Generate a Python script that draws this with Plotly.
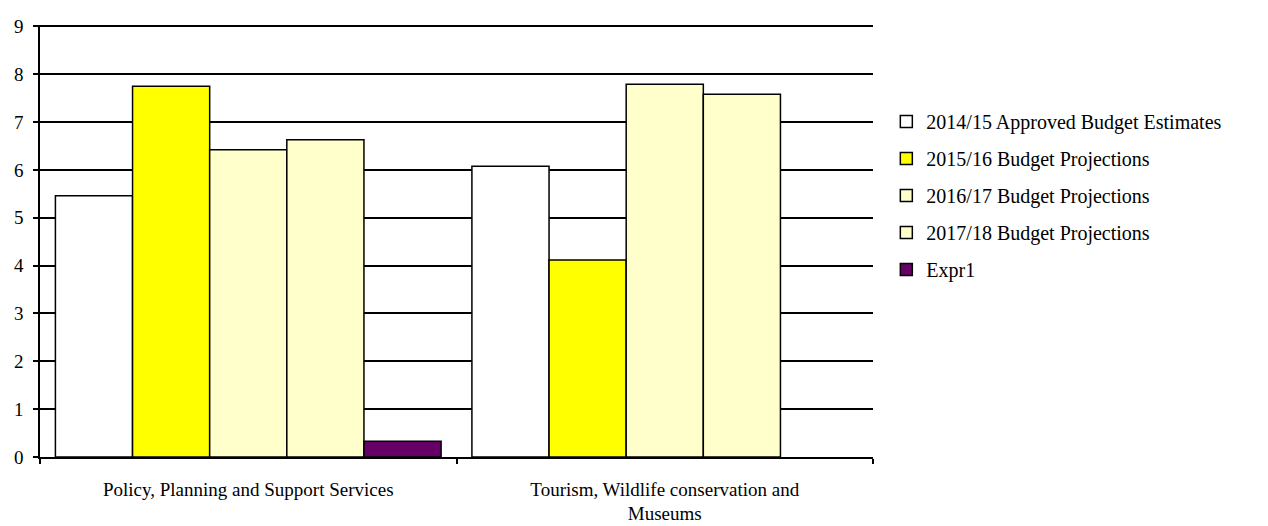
import plotly.graph_objects as go

categories = ["Policy, Planning and Support Services",
              "Tourism, Wildlife conservation and<br>Museums"]
series_names = ["2014/15 Approved Budget Estimates",
                "2015/16 Budget Projections",
                "2016/17 Budget Projections",
                "2017/18 Budget Projections",
                "Expr1"]
v_2014_15 = [5.46, 6.08]
v_2015_16 = [7.75, 4.12]
v_2016_17 = [6.42, 7.79]
v_2017_18 = [6.63, 7.58]
v_expr1 = [0.33, None]
colors = ["#FFFFFF", "#FFFF00", "#FFFFCC", "#FFFFCC", "#660066"]

values = [v_2014_15, v_2015_16, v_2016_17, v_2017_18, v_expr1]

fig = go.Figure()
for i, (name, vals, col) in enumerate(zip(series_names, values, colors)):
    fig.add_trace(go.Bar(
        x=categories, y=vals, name=name, legendgroup=f"g{i}",
        marker=dict(color=col, line=dict(color="black", width=1.5)),
    ))

fam = "Liberation Serif, Times New Roman, serif"
font = dict(family=fam, size=19, color="black")

fig.update_layout(
    width=1268, height=526,
    margin=dict(l=40, r=395, t=25, b=69, autoexpand=False),
    paper_bgcolor="white", plot_bgcolor="white",
    barmode="group", bargap=0.074, bargroupgap=0,
    font=font,
    showlegend=True,
    legend=dict(x=1.016, y=0.822, xanchor="left", yanchor="top",
                font=dict(family=fam, size=20, color="black"),
                tracegroupgap=8, itemwidth=30, traceorder="grouped",
                bgcolor="rgba(0,0,0,0)"),
)
fig.update_yaxes(range=[0, 9.03], tickvals=list(range(10)), showgrid=True,
                 gridcolor="black", gridwidth=1.5,
                 showline=True, linecolor="black", linewidth=1.5,
                 ticks="outside", ticklen=5, tickcolor="black", tickwidth=1.5,
                 ticklabelstandoff=6,
                 zeroline=False, tickfont=font)
fig.update_xaxes(showline=True, linecolor="black", linewidth=1.5,
                 ticks="outside", tickson="boundaries", ticklen=5, tickcolor="black",
                 tickwidth=1.5, tickfont=font, ticklabelstandoff=14)

fig.write_html("out.html")
